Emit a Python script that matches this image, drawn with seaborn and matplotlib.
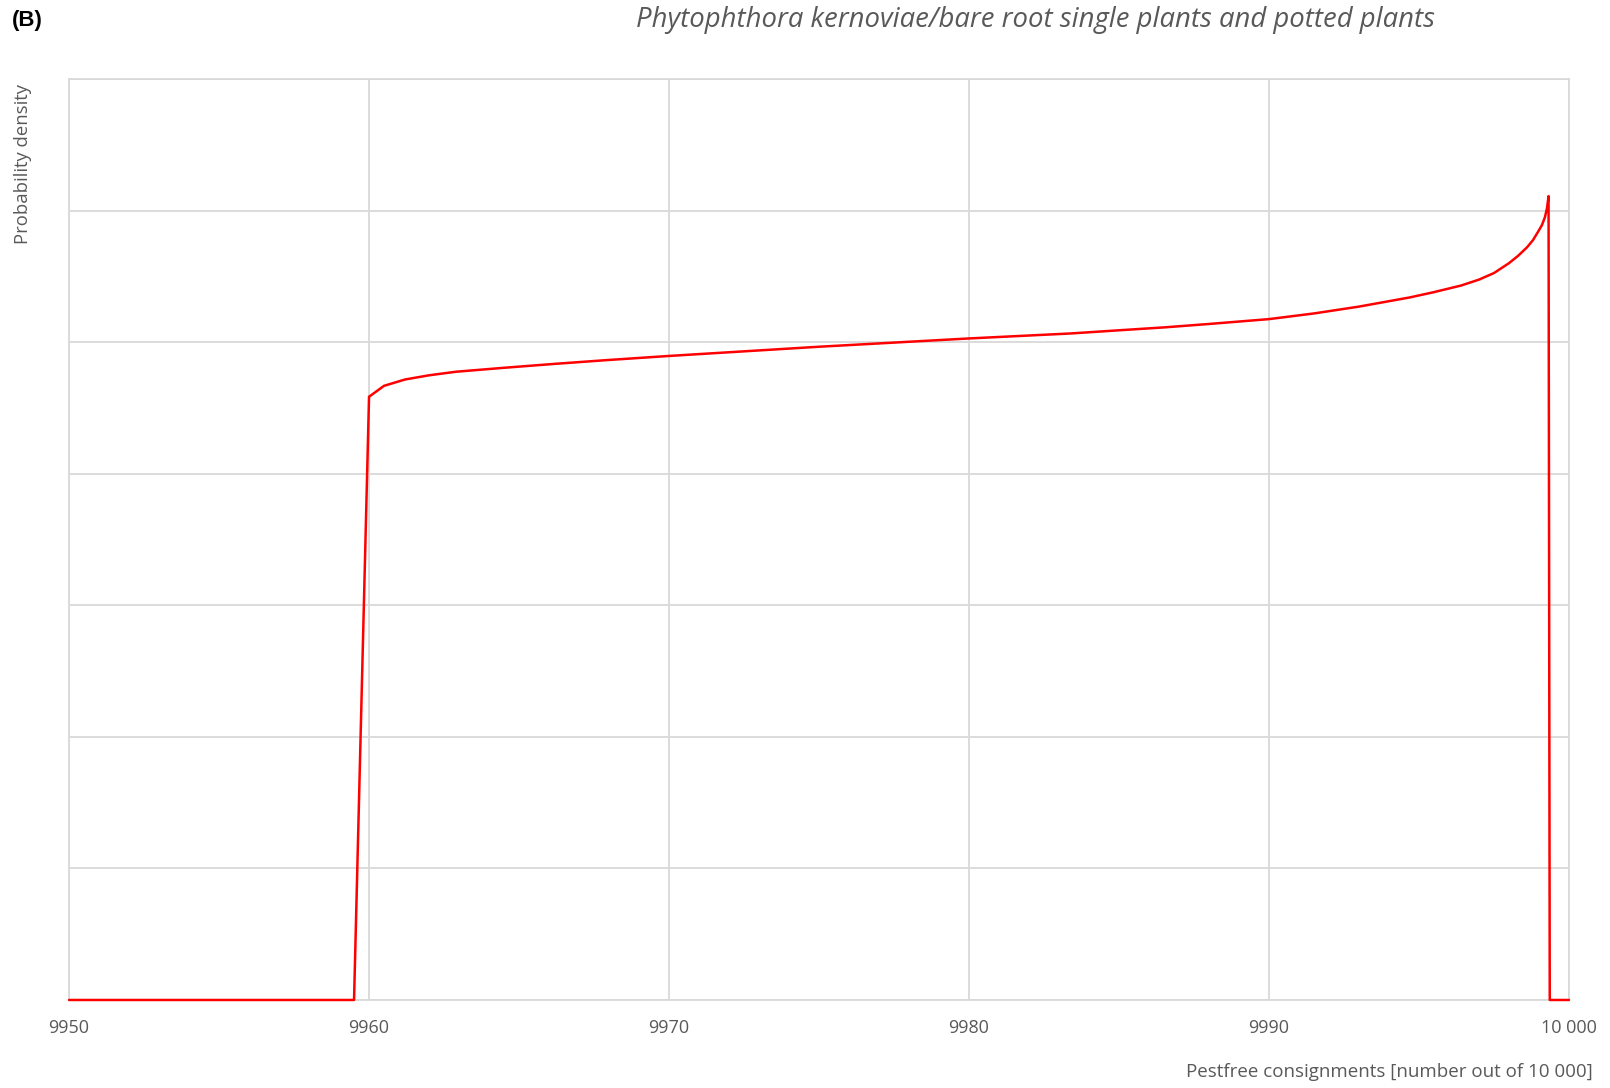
import numpy as np
import pandas as pd
import matplotlib
matplotlib.use('Agg')
import matplotlib.pyplot as plt
import seaborn as sns

# values (density has no units, axis 0..7)
consignments = [9950, 9959.5, 9960, 9960.5, 9961.2, 9962.0, 9962.9, 9964.5, 9966.2, 9967.9,
                9970, 9975, 9980, 9983.4, 9985, 9986.5, 9988, 9990, 9991.5, 9993,
                9994.7, 9995.5, 9996.4, 9997.0, 9997.5, 9998, 9998.3, 9998.6, 9998.8, 9999.0,
                9999.1, 9999.2, 9999.27, 9999.32, 9999.36, 10000]
density = [0, 0, 4.585, 4.668, 4.716, 4.748, 4.775, 4.805, 4.835, 4.863,
           4.895, 4.965, 5.028, 5.066, 5.09, 5.112, 5.138, 5.175, 5.218, 5.27,
           5.34, 5.38, 5.43, 5.475, 5.525, 5.6, 5.655, 5.72, 5.775, 5.85,
           5.89, 5.95, 6.02, 6.11, 0, 0]

x_ticks = [9950, 9960, 9970, 9980, 9990, 10000]
x_tick_labels = ['9950', '9960', '9970', '9980', '9990', '10 000']

df = pd.DataFrame({'x': consignments, 'y': density})

sns.set_style('white')
plt.rcParams['font.family'] = ['Open Sans', 'DejaVu Sans']

fig = plt.figure(figsize=(16.1, 10.88), dpi=100)
ax = fig.add_axes([0.0429, 0.0809, 0.9316, 0.8465])

sns.lineplot(data=df, x='x', y='y', color='#ff0000', linewidth=1.8, estimator=None, ax=ax)
for ln in ax.lines:
    ln.set_clip_on(False)
    ln.set_zorder(5)

ax.set_xlim(9950, 10000)
ax.set_ylim(0, 7)
ax.set_xticks(x_ticks)
ax.set_xticklabels(x_tick_labels)
ax.set_yticks(np.arange(0, 8, 1))
ax.set_yticklabels([])
ax.grid(True, color='#d9d9d9', linewidth=1.3)
ax.set_axisbelow(True)
for s in ax.spines.values():
    s.set_color('#d9d9d9')
    s.set_linewidth(1.3)
ax.tick_params(axis='both', length=0, pad=14, labelsize=13, labelcolor='#595959')
ax.set_xlabel('')
ax.set_ylabel('')

fig.text(0.0075, 0.981, '(B)', fontsize=16, fontweight='bold', family='Liberation Sans',
         va='center', ha='left', color='black')
fig.text(0.643, 0.982, 'Phytophthora kernoviae/bare root single plants and potted plants',
         fontsize=19.8, style='italic', color='#595959', ha='center', va='center')
fig.text(0.014, 0.923, 'Probability density', rotation=90, fontsize=13.3,
         color='#595959', ha='center', va='top')
fig.text(0.989, 0.0145, 'Pestfree consignments [number out of 10 000]', fontsize=13.5,
         color='#595959', ha='right', va='center')

fig.savefig('out.png', dpi=100)
